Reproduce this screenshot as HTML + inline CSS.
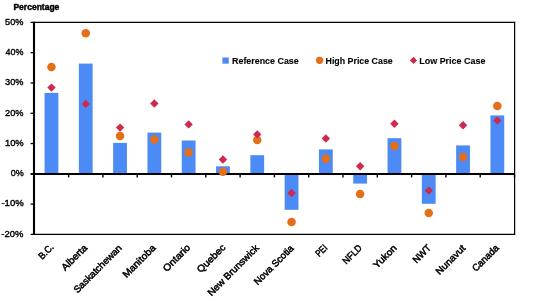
<!DOCTYPE html>
<html><head><meta charset="utf-8"><style>
html,body{margin:0;padding:0;background:#fff;width:546px;height:301px;overflow:hidden}
svg{display:block;will-change:transform}
text{font-family:"Liberation Sans", sans-serif;fill:#000;font-weight:bold;stroke:#000;stroke-width:0.12}
.tt{stroke:#000;stroke-width:0.45}
.yt{font-weight:normal;stroke-width:0.4}
.xl{font-weight:normal;stroke-width:0.5}
</style></head><body>
<svg width="546" height="301" viewBox="0 0 546 301">
<rect x="44.55" y="92.90" width="13.80" height="81.10" fill="#4C8BF5"/>
<rect x="78.85" y="63.60" width="13.80" height="110.40" fill="#4C8BF5"/>
<rect x="113.15" y="142.90" width="13.80" height="31.10" fill="#4C8BF5"/>
<rect x="147.45" y="132.60" width="13.80" height="41.40" fill="#4C8BF5"/>
<rect x="181.75" y="140.50" width="13.80" height="33.50" fill="#4C8BF5"/>
<rect x="216.05" y="166.30" width="13.80" height="7.70" fill="#4C8BF5"/>
<rect x="250.35" y="155.20" width="13.80" height="18.80" fill="#4C8BF5"/>
<rect x="284.65" y="174.00" width="13.80" height="35.80" fill="#4C8BF5"/>
<rect x="318.95" y="149.40" width="13.80" height="24.60" fill="#4C8BF5"/>
<rect x="353.25" y="174.00" width="13.80" height="9.60" fill="#4C8BF5"/>
<rect x="387.55" y="138.20" width="13.80" height="35.80" fill="#4C8BF5"/>
<rect x="421.85" y="174.00" width="13.80" height="29.80" fill="#4C8BF5"/>
<rect x="456.15" y="145.40" width="13.80" height="28.60" fill="#4C8BF5"/>
<rect x="490.45" y="115.40" width="13.80" height="58.60" fill="#4C8BF5"/>
<line x1="34.00" y1="22.40" x2="515.15" y2="22.40" stroke="#000" stroke-width="1.2"/>
<line x1="34.00" y1="234.40" x2="515.15" y2="234.40" stroke="#000" stroke-width="1.2"/>
<line x1="514.60" y1="21.80" x2="514.60" y2="235.00" stroke="#000" stroke-width="1.2"/>
<line x1="34.00" y1="21.80" x2="34.00" y2="235.00" stroke="#000" stroke-width="2.1"/>
<line x1="30.60" y1="22.40" x2="34.00" y2="22.40" stroke="#000" stroke-width="1.3"/>
<text x="23.46" y="24.82" text-anchor="end" class="yt" font-size="9.9" textLength="18.42" lengthAdjust="spacingAndGlyphs">50%</text>
<line x1="30.60" y1="52.69" x2="34.00" y2="52.69" stroke="#000" stroke-width="1.3"/>
<text x="23.46" y="55.36" text-anchor="end" class="yt" font-size="9.9" textLength="17.92" lengthAdjust="spacingAndGlyphs">40%</text>
<line x1="30.60" y1="82.97" x2="34.00" y2="82.97" stroke="#000" stroke-width="1.3"/>
<text x="23.46" y="85.33" text-anchor="end" class="yt" font-size="9.9" textLength="18.42" lengthAdjust="spacingAndGlyphs">30%</text>
<line x1="30.60" y1="113.26" x2="34.00" y2="113.26" stroke="#000" stroke-width="1.3"/>
<text x="23.46" y="115.80" text-anchor="end" class="yt" font-size="9.9" textLength="18.42" lengthAdjust="spacingAndGlyphs">20%</text>
<line x1="30.60" y1="143.54" x2="34.00" y2="143.54" stroke="#000" stroke-width="1.3"/>
<text x="23.73" y="145.97" text-anchor="end" class="yt" font-size="9.9" textLength="18.78" lengthAdjust="spacingAndGlyphs">10%</text>
<text x="23.73" y="176.25" text-anchor="end" class="yt" font-size="9.9" textLength="13.00" lengthAdjust="spacingAndGlyphs">0%</text>
<line x1="30.60" y1="204.11" x2="34.00" y2="204.11" stroke="#000" stroke-width="1.3"/>
<text x="23.73" y="206.37" text-anchor="end" class="yt" font-size="9.9" textLength="22.30" lengthAdjust="spacingAndGlyphs">-10%</text>
<line x1="30.60" y1="234.40" x2="34.00" y2="234.40" stroke="#000" stroke-width="1.3"/>
<text x="23.46" y="236.69" text-anchor="end" class="yt" font-size="9.9" textLength="22.10" lengthAdjust="spacingAndGlyphs">-20%</text>
<line x1="30.60" y1="174.00" x2="514.50" y2="174.00" stroke="#000" stroke-width="2"/>
<line x1="68.60" y1="174.00" x2="68.60" y2="177.40" stroke="#000" stroke-width="1.4"/>
<line x1="102.90" y1="174.00" x2="102.90" y2="177.40" stroke="#000" stroke-width="1.4"/>
<line x1="137.20" y1="174.00" x2="137.20" y2="177.40" stroke="#000" stroke-width="1.4"/>
<line x1="171.50" y1="174.00" x2="171.50" y2="177.40" stroke="#000" stroke-width="1.4"/>
<line x1="205.80" y1="174.00" x2="205.80" y2="177.40" stroke="#000" stroke-width="1.4"/>
<line x1="240.10" y1="174.00" x2="240.10" y2="177.40" stroke="#000" stroke-width="1.4"/>
<line x1="274.40" y1="174.00" x2="274.40" y2="177.40" stroke="#000" stroke-width="1.4"/>
<line x1="308.70" y1="174.00" x2="308.70" y2="177.40" stroke="#000" stroke-width="1.4"/>
<line x1="343.00" y1="174.00" x2="343.00" y2="177.40" stroke="#000" stroke-width="1.4"/>
<line x1="377.30" y1="174.00" x2="377.30" y2="177.40" stroke="#000" stroke-width="1.4"/>
<line x1="411.60" y1="174.00" x2="411.60" y2="177.40" stroke="#000" stroke-width="1.4"/>
<line x1="445.90" y1="174.00" x2="445.90" y2="177.40" stroke="#000" stroke-width="1.4"/>
<line x1="480.20" y1="174.00" x2="480.20" y2="177.40" stroke="#000" stroke-width="1.4"/>
<line x1="514.50" y1="174.00" x2="514.50" y2="177.40" stroke="#000" stroke-width="1.4"/>
<circle cx="51.45" cy="67.00" r="4.25" fill="#E56F16"/>
<circle cx="85.75" cy="33.30" r="4.25" fill="#E56F16"/>
<circle cx="120.05" cy="136.10" r="4.25" fill="#E56F16"/>
<circle cx="154.35" cy="139.60" r="4.25" fill="#E56F16"/>
<circle cx="188.65" cy="152.60" r="4.25" fill="#E56F16"/>
<circle cx="222.95" cy="171.70" r="4.25" fill="#E56F16"/>
<circle cx="257.25" cy="140.10" r="4.25" fill="#E56F16"/>
<circle cx="291.55" cy="221.90" r="4.25" fill="#E56F16"/>
<circle cx="325.85" cy="158.70" r="4.25" fill="#E56F16"/>
<circle cx="360.15" cy="194.00" r="4.25" fill="#E56F16"/>
<circle cx="394.45" cy="145.90" r="4.25" fill="#E56F16"/>
<circle cx="428.75" cy="213.10" r="4.25" fill="#E56F16"/>
<circle cx="463.05" cy="157.00" r="4.25" fill="#E56F16"/>
<circle cx="497.35" cy="106.10" r="4.25" fill="#E56F16"/>
<path d="M51.45 83.40L55.65 87.60L51.45 91.80L47.25 87.60Z" fill="#CC2A4E"/>
<path d="M85.75 99.70L89.95 103.90L85.75 108.10L81.55 103.90Z" fill="#CC2A4E"/>
<path d="M120.05 123.40L124.25 127.60L120.05 131.80L115.85 127.60Z" fill="#CC2A4E"/>
<path d="M154.35 99.30L158.55 103.50L154.35 107.70L150.15 103.50Z" fill="#CC2A4E"/>
<path d="M188.65 120.20L192.85 124.40L188.65 128.60L184.45 124.40Z" fill="#CC2A4E"/>
<path d="M222.95 155.30L227.15 159.50L222.95 163.70L218.75 159.50Z" fill="#CC2A4E"/>
<path d="M257.25 130.20L261.45 134.40L257.25 138.60L253.05 134.40Z" fill="#CC2A4E"/>
<path d="M291.55 188.80L295.75 193.00L291.55 197.20L287.35 193.00Z" fill="#CC2A4E"/>
<path d="M325.85 134.30L330.05 138.50L325.85 142.70L321.65 138.50Z" fill="#CC2A4E"/>
<path d="M360.15 162.00L364.35 166.20L360.15 170.40L355.95 166.20Z" fill="#CC2A4E"/>
<path d="M394.45 119.50L398.65 123.70L394.45 127.90L390.25 123.70Z" fill="#CC2A4E"/>
<path d="M428.75 186.40L432.95 190.60L428.75 194.80L424.55 190.60Z" fill="#CC2A4E"/>
<path d="M463.05 121.10L467.25 125.30L463.05 129.50L458.85 125.30Z" fill="#CC2A4E"/>
<path d="M497.35 116.40L501.55 120.60L497.35 124.80L493.15 120.60Z" fill="#CC2A4E"/>
<text transform="translate(52.01,245.40) rotate(-45)" x="0" y="3.3" text-anchor="end" class="xl" font-size="9.6" textLength="17.20" lengthAdjust="spacingAndGlyphs">B.C.</text>
<text transform="translate(85.67,246.04) rotate(-45)" x="0" y="3.3" text-anchor="end" class="xl" font-size="9.6" textLength="32.22" lengthAdjust="spacingAndGlyphs">Alberta</text>
<text transform="translate(120.13,246.20) rotate(-45)" x="0" y="3.3" text-anchor="end" class="xl" font-size="9.6" textLength="63.65" lengthAdjust="spacingAndGlyphs">Saskatchewan</text>
<text transform="translate(153.95,246.04) rotate(-45)" x="0" y="3.3" text-anchor="end" class="xl" font-size="9.6" textLength="42.30" lengthAdjust="spacingAndGlyphs">Manitoba</text>
<text transform="translate(188.57,245.72) rotate(-45)" x="0" y="3.3" text-anchor="end" class="xl" font-size="9.6" textLength="34.07" lengthAdjust="spacingAndGlyphs">Ontario</text>
<text transform="translate(223.67,245.72) rotate(-45)" x="0" y="3.3" text-anchor="end" class="xl" font-size="9.6" textLength="35.65" lengthAdjust="spacingAndGlyphs">Quebec</text>
<text transform="translate(257.17,246.20) rotate(-45)" x="0" y="3.3" text-anchor="end" class="xl" font-size="9.6" textLength="67.84" lengthAdjust="spacingAndGlyphs">New Brunswick</text>
<text transform="translate(291.95,246.52) rotate(-45)" x="0" y="3.3" text-anchor="end" class="xl" font-size="9.6" textLength="51.73" lengthAdjust="spacingAndGlyphs">Nova Scotia</text>
<text transform="translate(325.61,246.20) rotate(-45)" x="0" y="3.3" text-anchor="end" class="xl" font-size="9.6" textLength="12.30" lengthAdjust="spacingAndGlyphs">PEI</text>
<text transform="translate(360.23,246.20) rotate(-45)" x="0" y="3.3" text-anchor="end" class="xl" font-size="9.6" textLength="22.91" lengthAdjust="spacingAndGlyphs">NFLD</text>
<text transform="translate(395.01,246.20) rotate(-45)" x="0" y="3.3" text-anchor="end" class="xl" font-size="9.6" textLength="28.95" lengthAdjust="spacingAndGlyphs">Yukon</text>
<text transform="translate(429.31,246.20) rotate(-45)" x="0" y="3.3" text-anchor="end" class="xl" font-size="9.6" textLength="21.50" lengthAdjust="spacingAndGlyphs">NWT</text>
<text transform="translate(463.61,246.52) rotate(-45)" x="0" y="3.3" text-anchor="end" class="xl" font-size="9.6" textLength="37.32" lengthAdjust="spacingAndGlyphs">Nunavut</text>
<text transform="translate(497.11,246.20) rotate(-45)" x="0" y="3.3" text-anchor="end" class="xl" font-size="9.6" textLength="33.16" lengthAdjust="spacingAndGlyphs">Canada</text>
<text x="13.44" y="9.55" font-size="8.7" textLength="45.89" lengthAdjust="spacingAndGlyphs" class="tt">Percentage</text>
<rect x="222.4" y="57.5" width="6.4" height="6.2" fill="#4C8BF5"/>
<text x="232.04" y="64.37" font-size="9.9" textLength="66.69" lengthAdjust="spacingAndGlyphs">Reference Case</text>
<circle cx="319.6" cy="60.35" r="3.6" fill="#E56F16"/>
<text x="325.53" y="63.80" font-size="9.9" textLength="67.19" lengthAdjust="spacingAndGlyphs">High Price Case</text>
<path d="M413.5 56.8L417.15 60.45L413.5 64.1L409.85 60.45Z" fill="#CC2A4E"/>
<text x="419.29" y="64.37" font-size="9.9" textLength="66.11" lengthAdjust="spacingAndGlyphs">Low Price Case</text>
</svg>
</body></html>
